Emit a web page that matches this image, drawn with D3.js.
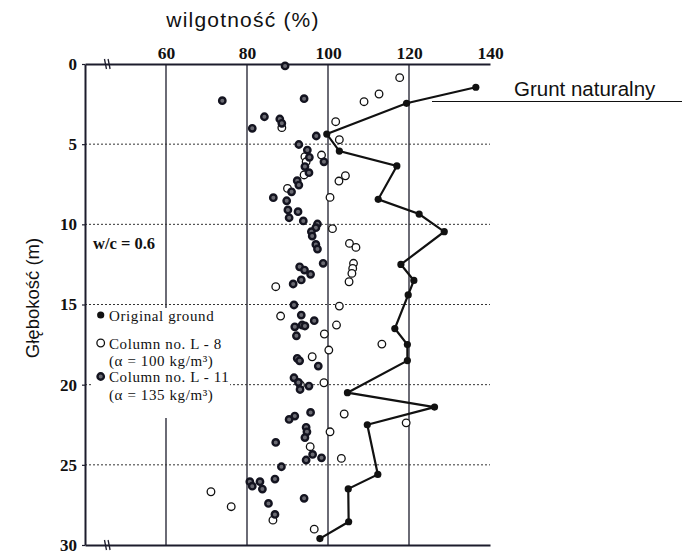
<!DOCTYPE html>
<html>
<head>
<meta charset="utf-8">
<script src="https://cdn.jsdelivr.net/npm/d3@7/dist/d3.min.js"></script>
<style>
  html, body { margin: 0; padding: 0; background: #fff; }
  svg { display: block; }
</style>
</head>
<body>
<svg id="chart" width="682" height="557"></svg>
<script>
// Moisture content (%) versus depth (m)
const xTicks = [60, 80, 100, 120, 140];
const yTicks = [0, 5, 10, 15, 20, 25, 30];
const gridX = [60, 80, 100, 120];
const gridY = [5, 10, 15, 20, 25];

// [moisture %, depth m]
const originalGround = [
  [136.5, 1.45], [119.4, 2.45], [99.7, 4.37], [102.8, 5.43], [117, 6.36],
  [112.4, 8.44], [122.5, 9.36], [128.7, 10.46], [118, 12.5], [121.2, 13.5],
  [119.8, 14.4], [116.5, 16.5], [119.6, 17.5], [119.6, 18.5], [104.8, 20.5],
  [126.3, 21.4], [109.7, 22.5], [112.3, 25.6], [105, 26.5], [105.1, 28.55],
  [98, 29.6]
];

const columnL8 = [
  [117.7, 0.85], [112.6, 1.87], [108.9, 2.35], [101.9, 3.6], [88.6, 3.97],
  [102.8, 4.72], [94.3, 5.78], [98.4, 5.68], [94.6, 6.1], [94.1, 6.92],
  [104.3, 6.97], [102.7, 7.3], [90, 7.76], [100.5, 8.32], [101.1, 10.27],
  [105.3, 11.19], [106.9, 11.44], [106.3, 12.43], [106.1, 12.75], [105.9, 13.06],
  [105.2, 13.58], [87.1, 13.89], [102.8, 15.1], [88.3, 15.72], [102.1, 16.28],
  [99.1, 16.84], [113.3, 17.47], [100.2, 17.84], [96.1, 18.26], [99, 19.88],
  [93.2, 20.02], [104, 21.83], [119.3, 22.38], [100.5, 22.94], [95.6, 23.87],
  [103.3, 24.6], [71.1, 26.68], [76.1, 27.61], [86.4, 28.45], [96.6, 29.01]
];

const columnL11 = [
  [89.4, 0.12], [73.9, 2.29], [94.1, 2.16], [84.3, 3.29], [88.1, 3.43],
  [88.6, 3.7], [81.3, 4.01], [97.1, 4.49], [92.8, 5.02], [94.9, 5.37],
  [95.4, 5.82], [99, 6.1], [94.3, 6.4], [95.3, 6.78], [92.4, 7.28],
  [92.8, 7.55], [91, 7.97], [86.5, 8.34], [89.8, 8.53], [90.1, 9.1],
  [92.6, 9.21], [90.4, 9.59], [93.9, 9.79], [97.4, 9.98], [97, 10.21],
  [95.9, 10.46], [96.1, 10.73], [97, 11.25], [97.4, 11.54], [98.8, 12.43],
  [93, 12.65], [94.2, 12.85], [95.7, 13.12], [93.4, 13.47], [91.4, 13.72],
  [91.6, 15.03], [93.4, 15.66], [96.6, 16.01], [93.6, 16.28], [91.8, 16.39],
  [94.3, 16.34], [92.2, 16.95], [92.4, 18.36], [93, 18.51], [97.6, 18.84],
  [91.6, 19.57], [92.7, 19.86], [95.3, 20.09], [93.1, 20.3], [95.7, 21.73],
  [91.8, 21.96], [90.4, 22.17], [94.6, 22.66], [94.8, 22.94], [94.3, 23.3],
  [87.1, 23.6], [96.2, 24.35], [94.6, 24.7], [98.4, 24.56], [88.5, 25.12],
  [86.9, 25.89], [80.7, 26.05], [81.3, 26.33], [83.2, 26.05], [83.8, 26.51],
  [94.1, 27.09], [85.3, 27.41], [86.9, 28.09]
];

const legendLines = [
  { sym: "ground", lines: ["Original ground"] },
  { sym: "l8", lines: ["Column no. L - 8", "(α = 100 kg/m³)"] },
  { sym: "l11", lines: ["Column no. L - 11", "(α = 135 kg/m³)"] }
];

const svg = d3.select("#chart");
const ink = "#1c1c2c";
const serif = "'Liberation Serif', 'Times New Roman', serif";
const sans = "'Liberation Sans', Arial, sans-serif";

const x = d3.scaleLinear().domain([40, 140]).range([85, 490]);
const y = d3.scaleLinear().domain([0, 30]).range([64, 545]);

// vertical grid lines
svg.append("g").selectAll("line").data(gridX).join("line")
  .attr("x1", d => x(d)).attr("x2", d => x(d))
  .attr("y1", y(0)).attr("y2", y(30))
  .attr("stroke", ink).attr("stroke-width", 1.3);

// dotted horizontal lines
svg.append("g").selectAll("line").data(gridY).join("line")
  .attr("x1", x(40)).attr("x2", x(140))
  .attr("y1", d => y(d)).attr("y2", d => y(d))
  .attr("stroke", "#333").attr("stroke-width", 1)
  .attr("stroke-dasharray", "2,2");

// top axis with labels
const topAxis = svg.append("g")
  .attr("transform", `translate(0,${y(0)})`)
  .call(d3.axisTop(x).tickValues(xTicks).tickSize(0).tickSizeOuter(0).tickPadding(5));
topAxis.select(".domain").attr("stroke", ink).attr("stroke-width", 2);
topAxis.selectAll("text")
  .attr("font-family", serif).attr("font-weight", "bold").attr("font-size", 17.5)
  .attr("fill", "#111");

// bottom axis line
const botAxis = svg.append("g")
  .attr("transform", `translate(0,${y(30)})`)
  .call(d3.axisBottom(x).tickValues([]).tickSize(0).tickSizeOuter(0));
botAxis.select(".domain").attr("stroke", ink).attr("stroke-width", 2);

// left axis
const leftAxis = svg.append("g")
  .attr("transform", `translate(${x(40)},0)`)
  .call(d3.axisLeft(y).tickValues(yTicks).tickSize(3).tickSizeOuter(0).tickPadding(5));
leftAxis.select(".domain").attr("stroke", ink).attr("stroke-width", 2);
leftAxis.selectAll(".tick line").attr("stroke", ink).attr("stroke-width", 1.2);
leftAxis.selectAll("text")
  .attr("font-family", serif).attr("font-weight", "bold").attr("font-size", 17)
  .attr("fill", "#111");

// axis break marks on the horizontal axes
[0, 30].forEach(v => {
  [-1.8, 1.8].forEach(dx => {
    svg.append("line")
      .attr("x1", x(45.5) + dx - 1).attr("x2", x(45.5) + dx + 1)
      .attr("y1", y(v) - 5).attr("y2", y(v) + 5)
      .attr("stroke", ink).attr("stroke-width", 1.3);
  });
});

// legend block
svg.append("rect")
  .attr("x", 93).attr("y", 308).attr("width", 137).attr("height", 110)
  .attr("fill", "#fff");

svg.append("text")
  .attr("x", 93).attr("y", 249)
  .attr("font-family", serif).attr("font-weight", "bold").attr("font-size", 16.5)
  .attr("fill", "#111")
  .text("w/c = 0.6");

function symbol(g, kind, cx, cy) {
  if (kind === "ground") {
    g.append("circle").attr("cx", cx).attr("cy", cy).attr("r", 3.6)
      .attr("fill", "#111");
  } else if (kind === "l8") {
    g.append("circle").attr("cx", cx).attr("cy", cy).attr("r", 3.8)
      .attr("fill", "#fff").attr("stroke", "#111").attr("stroke-width", 1.3);
  } else {
    g.append("circle").attr("cx", cx).attr("cy", cy).attr("r", 3.2)
      .attr("fill", "#6a6a72").attr("stroke", "#141420").attr("stroke-width", 2.4);
  }
}

const legendY = [315, 343, 376.5];
const lg = svg.append("g");
legendLines.forEach((item, i) => {
  symbol(lg, item.sym, 100.7, legendY[i]);
  item.lines.forEach((t, j) => {
    lg.append("text")
      .attr("x", 109).attr("y", legendY[i] + 5.5 + j * 17.5)
      .attr("font-family", serif).attr("font-size", 15)
      .attr("letter-spacing", 0.6)
      .attr("fill", "#111")
      .text(t);
  });
});

// Column L-8 (open circles)
const g8 = svg.append("g");
columnL8.forEach(d => symbol(g8, "l8", x(d[0]), y(d[1])));

// Column L-11
const g11 = svg.append("g");
columnL11.forEach(d => symbol(g11, "l11", x(d[0]), y(d[1])));

// Original ground profile
svg.append("path")
  .datum(originalGround)
  .attr("d", d3.line().x(d => x(d[0])).y(d => y(d[1])))
  .attr("fill", "none").attr("stroke", "#111").attr("stroke-width", 2.2);
const gg = svg.append("g");
originalGround.forEach(d => symbol(gg, "ground", x(d[0]), y(d[1])));

// annotation and titles
svg.append("line")
  .attr("x1", 432).attr("x2", 682).attr("y1", 101.5).attr("y2", 101.5)
  .attr("stroke", "#111").attr("stroke-width", 1.2);
svg.append("text")
  .attr("x", 514).attr("y", 96)
  .attr("font-family", sans).attr("font-size", 20.5)
  .attr("fill", "#111")
  .text("Grunt naturalny");

svg.append("text")
  .attr("x", 243).attr("y", 27)
  .attr("text-anchor", "middle")
  .attr("font-family", sans).attr("font-size", 21)
  .attr("letter-spacing", 1.2)
  .attr("fill", "#111")
  .text("wilgotność (%)");

svg.append("text")
  .attr("transform", "translate(39,298) rotate(-90)")
  .attr("text-anchor", "middle")
  .attr("font-family", sans).attr("font-size", 18.5)
  .attr("fill", "#111")
  .text("Głębokość (m)");
</script>
</body>
</html>
